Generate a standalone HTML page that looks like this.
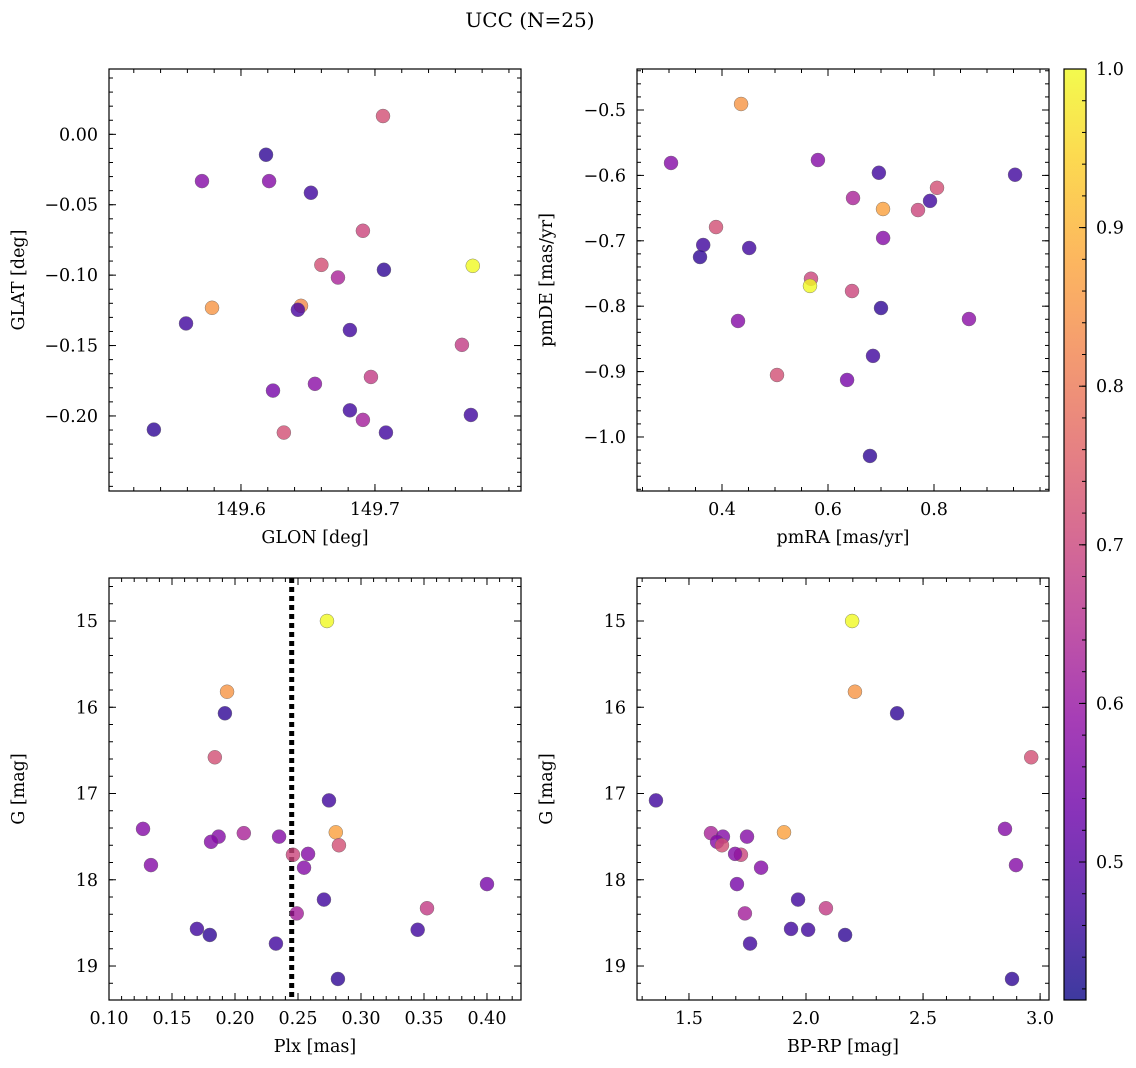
<!DOCTYPE html>
<html><head><meta charset="utf-8"><style>
body{margin:0;background:#fff;}
svg{display:block;font-family:"DejaVu Serif","Liberation Serif",serif;}
</style></head><body>
<svg id="fig" width="1136" height="1068" viewBox="0 0 1136 1068">
<defs><linearGradient id="plasma" x1="0" y1="1" x2="0" y2="0">
<stop offset="0" stop-color="#0d0887"/><stop offset="0.1" stop-color="#41049d"/><stop offset="0.2" stop-color="#6a00a8"/><stop offset="0.3" stop-color="#8f0da4"/><stop offset="0.4" stop-color="#b12a90"/><stop offset="0.5" stop-color="#cc4778"/><stop offset="0.6" stop-color="#e16462"/><stop offset="0.7" stop-color="#f2844b"/><stop offset="0.8" stop-color="#fca636"/><stop offset="0.9" stop-color="#fcce25"/><stop offset="1" stop-color="#f0f921"/></linearGradient></defs>
<text x="530" y="27" font-size="20" text-anchor="middle">UCC (N=25)</text>
</svg>
<script>
// Panel data
const lonVals=[149.706,149.6187,149.5709,149.621,149.6522,149.691,149.773,149.660,149.7067,149.6724,149.5784,149.6448,149.6425,149.559,149.6813,149.7649,149.697,149.6552,149.6239,149.6813,149.691,149.7716,149.535,149.632,149.7082];
const latVals=[0.013,-0.0145,-0.0332,-0.0332,-0.0415,-0.0685,-0.0934,-0.0927,-0.0962,-0.1017,-0.1232,-0.1218,-0.1246,-0.1343,-0.139,-0.1495,-0.1723,-0.1772,-0.182,-0.196,-0.2028,-0.1993,-0.2097,-0.2118,-0.2118];
const tlProb=[0.72,0.45,0.57,0.57,0.47,0.70,1.0,0.72,0.45,0.63,0.85,0.83,0.48,0.47,0.47,0.68,0.68,0.58,0.55,0.47,0.62,0.47,0.45,0.72,0.47];
const pmraVals=[0.436,0.3038,0.581,0.696,0.953,0.8057,0.6472,0.7925,0.7038,0.7698,0.3887,0.704,0.3645,0.4513,0.3585,0.5679,0.566,0.6453,0.70,0.866,0.4302,0.6849,0.5038,0.636,0.6792];
const pmdeVals=[-0.4908,-0.581,-0.5765,-0.596,-0.599,-0.619,-0.6346,-0.639,-0.6514,-0.653,-0.679,-0.6957,-0.7064,-0.711,-0.7248,-0.758,-0.769,-0.7768,-0.8028,-0.8196,-0.8226,-0.876,-0.9052,-0.9128,-1.029];
const trProb=[0.85,0.57,0.57,0.47,0.47,0.72,0.63,0.47,0.87,0.70,0.72,0.57,0.47,0.47,0.45,0.70,1.0,0.70,0.45,0.58,0.57,0.47,0.72,0.55,0.45];
const plxVals=[0.273,0.1937,0.192,0.184,0.2746,0.127,0.280,0.207,0.187,0.235,0.181,0.2825,0.246,0.258,0.1333,0.2548,0.40,0.2706,0.3524,0.249,0.1698,0.345,0.18,0.2325,0.2817];
const gVals=[15.0,15.82,16.07,16.58,17.08,17.41,17.45,17.46,17.50,17.50,17.56,17.60,17.71,17.70,17.83,17.86,18.05,18.23,18.33,18.39,18.57,18.58,18.64,18.74,19.15];
const bprpVals=[2.197,2.209,2.389,2.962,1.359,2.85,1.906,1.594,1.645,1.748,1.62,1.641,1.722,1.697,2.897,1.808,1.705,1.966,2.085,1.739,1.936,2.009,2.167,1.761,2.88];
const cmdProb=[1.0,0.85,0.45,0.72,0.47,0.57,0.87,0.63,0.57,0.57,0.57,0.72,0.70,0.57,0.57,0.57,0.55,0.47,0.68,0.62,0.47,0.47,0.45,0.47,0.45];
const plxCut=0.245;
const cbMin=0.413, cbMax=1.0;

const NS="http://www.w3.org/2000/svg";
const svg=document.getElementById('fig');
function mk(tag,attrs,parent){const e=document.createElementNS(NS,tag);for(const k in attrs)e.setAttribute(k,attrs[k]);(parent||svg).appendChild(e);return e;}
const stops=[[0,[13,8,135]],[0.1,[65,4,157]],[0.2,[106,0,168]],[0.3,[143,13,164]],[0.4,[177,42,144]],[0.5,[204,71,120]],[0.6,[225,100,98]],[0.7,[242,132,75]],[0.8,[252,166,54]],[0.9,[252,206,37]],[1,[240,249,33]]];
function plasma(t){t=Math.max(0,Math.min(1,t));for(let i=1;i<stops.length;i++){if(t<=stops[i][0]){const a=stops[i-1],b=stops[i];const f=(t-a[0])/(b[0]-a[0]);const c=a[1].map((v,j)=>Math.round(v+(b[1][j]-v)*f));return `rgb(${c})`;}}return 'rgb(240,249,33)';}
function color(p){return plasma((p-cbMin)/(cbMax-cbMin));}
const ALPHA=0.8;

function panel(o){
  const g=mk('g',{});
  
  
  const sx=v=>o.x0+(v-o.xmin)/(o.xmax-o.xmin)*(o.x1-o.x0);
  const sy=v=>o.yinv? o.y0+(v-o.ymin)/(o.ymax-o.ymin)*(o.y1-o.y0) : o.y1-(v-o.ymin)/(o.ymax-o.ymin)*(o.y1-o.y0);
  const tk=(v,len,axis)=>{
    if(axis==='x'){const x=sx(v);mk('line',{x1:x,y1:o.y1,x2:x,y2:o.y1-len,stroke:'#000','stroke-width':1},g);mk('line',{x1:x,y1:o.y0,x2:x,y2:o.y0+len,stroke:'#000','stroke-width':1},g);}
    else{const y=sy(v);mk('line',{x1:o.x0,y1:y,x2:o.x0+len,y2:y,stroke:'#000','stroke-width':1},g);mk('line',{x1:o.x1,y1:y,x2:o.x1-len,y2:y,stroke:'#000','stroke-width':1},g);}
  };
  for(let v=Math.ceil(o.xmin/o.xminor-1e-9)*o.xminor;v<=o.xmax+1e-9;v+=o.xminor)tk(v,4,'x');
  for(let v=Math.ceil(o.ymin/o.yminor-1e-9)*o.yminor;v<=o.ymax+1e-9;v+=o.yminor)tk(v,4,'y');
  o.xticks.forEach((v,i)=>{tk(v,7,'x');const t=mk('text',{x:sx(v),y:o.y1+24,'font-size':17.5,'text-anchor':'middle'},g);t.textContent=o.xlabels[i];});
  o.yticks.forEach((v,i)=>{tk(v,7,'y');const t=mk('text',{x:o.x0-11,y:sy(v)+6,'font-size':17.5,'text-anchor':'end'},g);t.textContent=o.ylabels[i];});
  if(o.vline!==undefined){const l=mk('line',{x1:sx(o.vline),y1:o.y0,x2:sx(o.vline),y2:o.y1,stroke:'#000','stroke-width':5,'stroke-dasharray':'5,4'},g);}
  o.xs.forEach((v,i)=>{const c=mk('circle',{cx:sx(v),cy:sy(o.ys[i]),r:7,fill:color(o.ps[i]),'fill-opacity':ALPHA,stroke:'#666','stroke-width':0.4},g);});
  const f=mk('rect',{x:o.x0,y:o.y0,width:o.x1-o.x0,height:o.y1-o.y0,fill:'none',stroke:'#000','stroke-width':1.2},g);
  
  const xl=mk('text',{x:(o.x0+o.x1)/2,y:o.y1+52,'font-size':17.5,'text-anchor':'middle'},g);xl.textContent=o.xt;
  
  const cy=(o.y0+o.y1)/2,cx=o.x0-85;
  const yl=mk('text',{x:cx,y:cy,'font-size':17.5,'text-anchor':'middle',transform:`rotate(-90 ${cx} ${cy})`},g);yl.textContent=o.yt;
  
}
panel({name:'glon-glat-panel',x0:109,x1:521,y0:69,y1:491,xmin:149.5015,xmax:149.809,ymin:-0.2533,ymax:0.0464,xminor:0.02,yminor:0.01,
 xticks:[149.6,149.7],xlabels:['149.6','149.7'],yticks:[0,-0.05,-0.1,-0.15,-0.2],ylabels:['0.00','\u22120.05','\u22120.10','\u22120.15','\u22120.20'],
 xs:lonVals,ys:latVals,ps:tlProb,xt:'GLON [deg]',yt:'GLAT [deg]'});
panel({name:'pm-panel',x0:637,x1:1049,y0:69,y1:491,xmin:0.2396,xmax:1.017,ymin:-1.0826,ymax:-0.4373,xminor:0.05,yminor:0.02,
 xticks:[0.4,0.6,0.8],xlabels:['0.4','0.6','0.8'],yticks:[-0.5,-0.6,-0.7,-0.8,-0.9,-1.0],ylabels:['\u22120.5','\u22120.6','\u22120.7','\u22120.8','\u22120.9','\u22121.0'],
 xs:pmraVals,ys:pmdeVals,ps:trProb,xt:'pmRA [mas/yr]',yt:'pmDE [mas/yr]'});
panel({name:'plx-g-panel',x0:109,x1:521,y0:578,y1:1000,xmin:0.1,xmax:0.427,ymin:14.5014,ymax:19.394,yinv:true,xminor:0.01,yminor:0.2,
 xticks:[0.1,0.15,0.2,0.25,0.3,0.35,0.4],xlabels:['0.10','0.15','0.20','0.25','0.30','0.35','0.40'],yticks:[15,16,17,18,19],ylabels:['15','16','17','18','19'],
 xs:plxVals,ys:gVals,ps:cmdProb,xt:'Plx [mas]',yt:'G [mag]',vline:plxCut});
panel({name:'cmd-panel',x0:637,x1:1049,y0:578,y1:1000,xmin:1.278,xmax:3.038,ymin:14.5014,ymax:19.394,yinv:true,xminor:0.1,yminor:0.2,
 xticks:[1.5,2.0,2.5,3.0],xlabels:['1.5','2.0','2.5','3.0'],yticks:[15,16,17,18,19],ylabels:['15','16','17','18','19'],
 xs:bprpVals,ys:gVals,ps:cmdProb,xt:'BP-RP [mag]',yt:'G [mag]'});
// colorbar
const cb=mk('g',{});


const cbY=v=>1000-(v-cbMin)/(cbMax-cbMin)*931;
mk('rect',{x:1064,y:69,width:22,height:931,fill:'url(#plasma)','fill-opacity':ALPHA},cb);
for(let v=0.42;v<=1.0001;v+=0.02){const y=cbY(v);mk('line',{x1:1086,y1:y,x2:1082,y2:y,stroke:'#000','stroke-width':1},cb);}
const cbTicks=[0.5,0.6,0.7,0.8,0.9,1.0];
cbTicks.forEach(v=>{const y=cbY(v);mk('line',{x1:1086,y1:y,x2:1079,y2:y,stroke:'#000','stroke-width':1},cb);const t=mk('text',{x:1096,y:y+6,'font-size':17.5},cb);t.textContent=v.toFixed(1);});
mk('rect',{x:1064,y:69,width:22,height:931,fill:'none',stroke:'#000','stroke-width':1.2},cb);
</script>
</body></html>
